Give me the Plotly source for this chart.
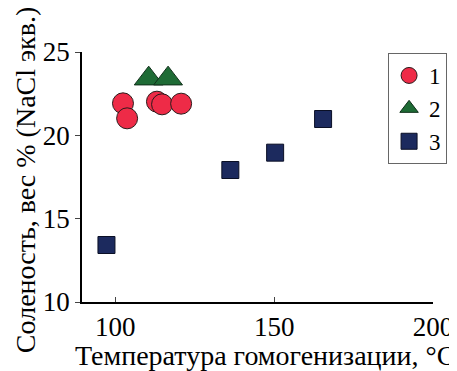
import plotly.graph_objects as go

# Data
x1 = [102.4, 103.7, 113.1, 114.7, 120.7]
y1 = [21.92, 21.02, 22.02, 21.86, 21.90]
x2 = [110.5, 116.6]
y2 = [23.4, 23.4]
x3 = [97.2, 136.2, 150.3, 165.4]
y3 = [13.42, 17.92, 18.96, 20.98]
names = ["1", "2", "3"]
x_ticks = [100, 150, 200]
y_ticks = [10, 15, 20, 25]

FONT = "Liberation Serif"
FS = 27
TFS = 28
LFS = 23

fig = go.Figure()
fig.add_trace(go.Scatter(x=x1, y=y1, mode="markers", name=names[0],
                         marker=dict(symbol="circle", size=21, color="#EE2B47",
                                     line=dict(color="#2a1a1a", width=1))))
fig.add_trace(go.Scatter(x=x2, y=y2, mode="markers", name=names[1],
                         marker=dict(symbol="triangle-up", size=25, color="#1E6B35",
                                     line=dict(color="#10301a", width=1))))
fig.add_trace(go.Scatter(x=x3, y=y3, mode="markers", name=names[2],
                         marker=dict(symbol="square", size=17, color="#1C2A5E",
                                     line=dict(color="#0a0f25", width=1))))

fig.update_layout(
    width=457, height=371,
    margin=dict(l=74, r=32, t=44, b=77, autoexpand=False),
    plot_bgcolor="white", paper_bgcolor="white",
    font=dict(family=FONT, size=FS, color="black"),
    showlegend=True,
    legend=dict(x=0.872, y=0.996, xanchor="left", yanchor="top",
                bordercolor="#666666", borderwidth=1, bgcolor="white",
                font=dict(family=FONT, size=LFS), itemwidth=30,
                tracegroupgap=0),
    xaxis=dict(range=[89.5, 200], tickvals=x_ticks, ticks="inside", ticklen=5,
               showline=True, linecolor="black", linewidth=1.5, showgrid=False,
               zeroline=False, tickfont=dict(size=FS)),
    yaxis=dict(range=[10, 25], tickvals=y_ticks, ticks="outside", ticklen=5,
               showline=True, linecolor="black", linewidth=1.5, showgrid=False,
               zeroline=False, tickfont=dict(size=FS)),
)
fig.add_annotation(text="Температура гомогенизации, °C", xref="paper", yref="paper",
                   x=-0.025, y=-0.284, xanchor="left", yanchor="bottom", showarrow=False,
                   font=dict(family=FONT, size=TFS))
fig.add_annotation(text="Соленость, вес % (NaCl экв.)", xref="paper", yref="paper",
                   x=-0.162, y=0.488, xanchor="center", yanchor="middle", textangle=-90,
                   showarrow=False, font=dict(family=FONT, size=TFS))
fig.write_html("out.html")
